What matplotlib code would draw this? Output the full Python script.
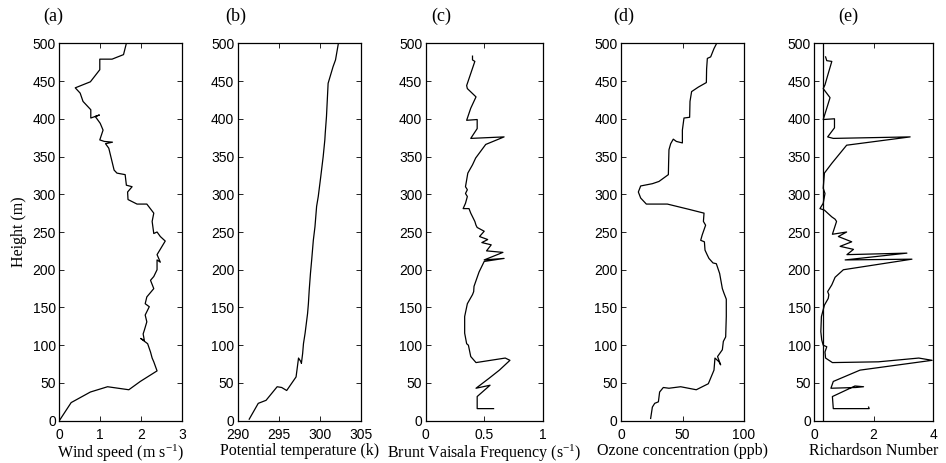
import matplotlib
matplotlib.use("Agg")
import matplotlib.pyplot as plt

plt.rcParams['font.family'] = ['Liberation Sans', 'DejaVu Sans']
plt.rcParams['mathtext.fontset'] = 'custom'
plt.rcParams['mathtext.rm'] = 'Liberation Serif'
plt.rcParams['mathtext.it'] = 'Liberation Serif:italic'

# ---- data ----
# (a) wind speed
wind_speed = [0.00, 0.29, 0.76, 1.18, 1.70, 1.98, 2.39, 2.31, 2.27, 2.23, 2.16, 1.99, 2.08, 2.05,
              2.08, 2.14, 2.10, 2.20, 2.10, 2.14, 2.31, 2.23, 2.31, 2.39, 2.39, 2.47, 2.39, 2.59,
              2.47, 2.39, 2.31, 2.27, 2.31, 2.14, 1.90, 1.68, 1.67, 1.78, 1.64, 1.61, 1.41, 1.34,
              1.21, 1.13, 1.30, 1.10, 0.99, 1.07, 1.00, 0.88, 0.98, 0.77, 0.77, 0.58, 0.51, 0.39,
              0.76, 0.99, 0.99, 1.29, 1.57, 1.64]
wind_height = [0, 24, 38, 45, 41, 52, 66, 78, 83, 91, 102, 109, 106, 115,
               120, 131, 140, 151, 155, 164, 175, 186, 191, 200, 213, 210, 220, 238,
               244, 250, 248, 264, 275, 287, 287, 293, 303, 310, 312, 326, 328, 332,
               361, 367, 369, 370, 372, 385, 394, 403, 405, 401, 412, 423, 434, 441,
               449, 465, 479, 479, 485, 500]

# (b) potential temperature
theta = [291.4, 292.5, 293.45, 294.8, 295.35, 295.96, 297.1, 297.4, 297.7, 297.75, 297.9,
         298.0, 298.2, 298.5, 298.6, 298.7, 298.85, 299.0, 299.2, 299.4, 299.6, 299.8,
         300.1, 300.4, 300.6, 300.65, 300.8, 300.9, 301.0, 301.6, 301.9, 302.25]
theta_height = [2, 23, 27, 45, 44, 40, 58, 83, 78, 76, 89,
                102, 116, 142, 155, 173, 195, 213, 239, 257, 284, 297,
                323, 350, 372, 381, 403, 425, 447, 469, 478, 500]

# (c) Brunt Vaisala frequency
bv_freq = [0.58, 0.44, 0.44, 0.55, 0.52, 0.43, 0.54, 0.63, 0.72, 0.68, 0.43, 0.385, 0.365,
           0.35, 0.333, 0.333, 0.356, 0.40, 0.41, 0.413, 0.456, 0.50, 0.67, 0.50, 0.66,
           0.52, 0.56, 0.48, 0.53, 0.46, 0.50, 0.44, 0.43, 0.42, 0.385, 0.37, 0.32, 0.34,
           0.356, 0.34, 0.356, 0.34, 0.36, 0.40, 0.427, 0.513, 0.67, 0.385, 0.44, 0.44,
           0.35, 0.385, 0.43, 0.356, 0.35, 0.385, 0.42, 0.40, 0.40]
bv_height = [16, 16, 32, 47, 46, 43, 56, 67, 80, 83, 77, 85, 100,
             102, 116, 138, 155, 167, 171, 178, 197, 211, 215, 213, 223,
             225, 233, 236, 240, 244, 251, 256, 259, 264, 275, 281, 281, 288,
             297, 301, 306, 310, 328, 339, 348, 366, 376, 374, 387, 399,
             398, 414, 429, 440, 444, 460, 476, 478, 483]

# (d) ozone concentration
ozone = [24.1, 25.5, 27.4, 30.4, 31.4, 34.4, 39.0, 48.5, 61.2, 71.0, 75.6, 76.4, 79.7, 81.0,
         78.5, 82.4, 83.2, 85.1, 85.6, 85.6, 83.7, 82.4, 80.2, 77.5, 74.8, 71.5, 70.0, 68.3,
         67.8, 64.8, 66.0, 67.5, 68.8, 67.0, 67.5, 65.0, 55.3, 37.7, 20.6, 16.0, 14.1, 16.0,
         25.5, 30.9, 38.5, 38.7, 39.0, 40.4, 42.5, 45.0, 49.9, 49.9, 51.2, 55.8, 56.1, 57.4,
         62.9, 69.4, 69.6, 70.2, 72.9, 75.6, 77.8]
ozone_height = [3, 18, 23, 25, 38, 44, 43, 45, 41, 49, 67, 83, 78, 74,
                85, 94, 105, 111, 138, 161, 169, 175, 195, 208, 209, 215, 220, 226,
                237, 239, 246, 253, 259, 264, 275, 276, 280, 287, 287, 295, 303, 311,
                314, 317, 326, 341, 359, 367, 373, 370, 368, 385, 401, 402, 423, 436,
                442, 448, 466, 480, 482, 493, 500]

# (e) Richardson number
richardson = [1.83, 1.85, 0.64, 0.61, 1.37, 1.66, 1.40, 0.56, 0.64, 1.54, 3.97, 3.52, 2.16,
              0.61, 0.38, 0.36, 0.42, 0.30, 0.25, 0.22, 0.24, 0.34, 0.47, 0.49, 0.45, 0.59,
              0.70, 0.98, 3.29, 1.04, 3.12, 1.10, 1.32, 0.87, 1.26, 0.81, 1.09, 0.61, 0.75,
              0.70, 0.59, 0.45, 0.34, 0.19, 0.30, 0.36, 0.30, 0.34, 0.59, 1.09, 3.23, 0.64,
              0.45, 0.68, 0.68, 0.30, 0.42, 0.53, 0.30, 0.36, 0.47, 0.59, 0.42, 0.38]
ri_height = [18, 16, 16, 32, 46, 45, 44, 43, 52, 67, 80, 83, 78,
             77, 83, 91, 98, 100, 107, 118, 138, 153, 162, 167, 171, 180,
             190, 200, 214, 213, 222, 220, 227, 231, 237, 244, 250, 247, 264,
             267, 270, 275, 279, 281, 288, 301, 308, 328, 341, 365, 376, 374,
             376, 388, 400, 399, 414, 428, 440, 445, 460, 476, 477, 482]
ri_critical = 0.3

# axis settings
x_limits = [(0, 3), (290, 305), (0, 1), (0, 100), (0, 4)]
x_ticks = [[0, 1, 2, 3], [290, 295, 300, 305], [0, 0.5, 1], [0, 50, 100], [0, 2, 4]]
x_ticklabels = [['0', '1', '2', '3'], ['290', '295', '300', '305'], ['0', '0.5', '1'],
                ['0', '50', '100'], ['0', '2', '4']]
x_labels = [r'Wind speed (m s$^{\mathrm{-1}}$)', 'Potential temperature (k)',
            r'Brunt Vaisala Frequency (s$^{\mathrm{-1}}$)', 'Ozone concentration (ppb)',
            'Richardson Number']
panel_titles = ['(a)', '(b)', '(c)', '(d)', '(e)']
y_ticks = list(range(0, 501, 50))

W, H = 946, 463
fig = plt.figure(figsize=(W / 100, H / 100), dpi=100)

# axes boxes in pixels: left, right
boxes = [(59.3, 182.0), (237.7, 361.0), (425.7, 542.7), (621.0, 744.0), (814.3, 933.0)]
top_px, bottom_px = 43.3, 420.7
title_x = [53, 236, 441, 624, 848]

series = [(wind_speed, wind_height), (theta, theta_height), (bv_freq, bv_height),
          (ozone, ozone_height), (richardson, ri_height)]

serif = ['Liberation Serif', 'DejaVu Serif']

for i, ((l, r), (xs, ys)) in enumerate(zip(boxes, series)):
    ax = fig.add_axes([l / W, 1 - bottom_px / H, (r - l) / W, (bottom_px - top_px) / H])
    ax.plot(xs, ys, color='black', lw=0.9)
    if i == 4:
        ax.axvline(ri_critical, color='black', lw=0.9)
    ax.set_xlim(*x_limits[i])
    ax.set_ylim(0, 500)
    ax.set_xticks(x_ticks[i])
    ax.set_xticklabels(x_ticklabels[i])
    ax.set_yticks(y_ticks)
    ax.tick_params(direction='in', top=True, right=True, length=3.5, width=0.6,
                   labelsize=10)
    ax.tick_params(axis='y', pad=2.5)
    ax.tick_params(axis='x', pad=5)
    for lab in ax.get_yticklabels():
        lab.set_verticalalignment('center_baseline')
    for s in ax.spines.values():
        s.set_linewidth(0.9)
    ax.set_xlabel(x_labels[i], fontsize=11.5, family=serif, labelpad=1.0)
    if i == 0:
        ax.set_ylabel('Height (m)', fontsize=11.5, family=serif, labelpad=4)
    fig.text(title_x[i] / W, 1 - 16 / H, panel_titles[i], fontsize=13, family=serif,
             ha='center', va='center')

fig.savefig('out.png', dpi=100)
